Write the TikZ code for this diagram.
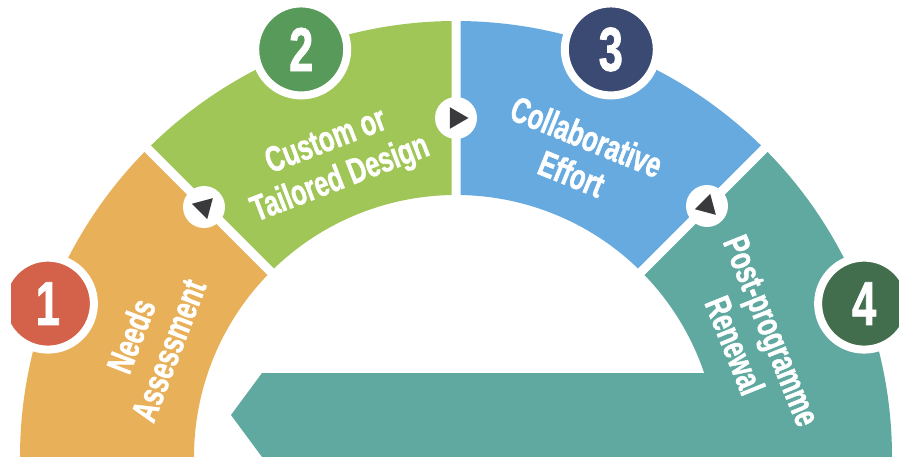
\documentclass[tikz,border=0pt]{standalone}
\usepackage{fontspec}
\usepackage{tikz}
\usetikzlibrary{shapes.geometric}
\newfontfamily\stepfont{Liberation Sans}[FakeStretch=0.7,FakeBold=1.2]
\definecolor{needs}{HTML}{E9B05A}
\definecolor{design}{HTML}{A0C657}
\definecolor{effort}{HTML}{67AADF}
\definecolor{renewal}{HTML}{5FA9A0}
\definecolor{numone}{HTML}{D4614A}
\definecolor{numtwo}{HTML}{589A5A}
\definecolor{numthree}{HTML}{3B4A73}
\definecolor{numfour}{HTML}{426E4E}
\definecolor{tipgray}{HTML}{3A3A3C}

\begin{document}
\begin{tikzpicture}[x=1pt,y=1pt,
  stepnum/.style={circle,draw=white,line width=8pt,minimum size=92pt,inner sep=0pt,
    text=white,font=\stepfont\bfseries\fontsize{62}{62}\selectfont},
  steptext/.style={align=center,text=white,inner sep=0pt,
    font=\stepfont\bfseries\fontsize{36}{40}\selectfont},
  stepmark/.style={circle,fill=white,minimum size=42pt,inner sep=0pt},
  tipmark/.style={regular polygon,regular polygon sides=3,fill=tipgray,minimum size=25pt,inner sep=0pt}]
  \useasboundingbox (0,0) rectangle (899,456);
  \clip (11,0) rectangle (899,456);

  \fill[renewal] (262,83) -- (231,41) -- (262,-1) -- (760,-1) -- (760,83) -- cycle;

  \begin{scope}[shift={(456,-1)}]
    \coordinate (c) at (0,0);
    \fill[needs] (135:262) -- (135:436) arc[start angle=135,end angle=180,radius=436]
      -- (180:262) arc[start angle=180,end angle=135,radius=262] -- cycle;
    \fill[design] (90:262) -- (90:436) arc[start angle=90,end angle=135,radius=436]
      -- (135:262) arc[start angle=135,end angle=90,radius=262] -- cycle;
    \fill[effort] (45:262) -- (45:436) arc[start angle=45,end angle=90,radius=436]
      -- (90:262) arc[start angle=90,end angle=45,radius=262] -- cycle;
    \fill[renewal] (0:262) -- (0:436) arc[start angle=0,end angle=45,radius=436]
      -- (45:262) arc[start angle=45,end angle=0,radius=262] -- cycle;
    \draw[white,line width=9pt] (45:255) -- (45:445) (90:255) -- (90:445) (135:255) -- (135:445);

    \node[stepnum,fill=numone]   (n1) at (159.4:436) {1};
    \node[stepnum,fill=numtwo]   (n2) at (110.8:436) {2};
    \node[stepnum,fill=numthree] (n3) at (69.2:436)  {3};
    \node[stepnum,fill=numfour]  (n4) at (20.6:436)  {4};

    \node[steptext,rotate=69]  (l1) at (159.6:327) {Needs\\Assessment};
    \node[steptext,rotate=21]  (l2) at (112.5:320) {Custom or\\Tailored Design};
    \node[steptext,rotate=-22] (l3) at (67.8:326)  {Collaborative\\Effort};
    \node[steptext,rotate=-68] (l4) at (21.8:320)  {Post-programme\\Renewal};
  \end{scope}

  \node[stepmark] (m1) at (204,249) {};
  \node[stepmark] (m2) at (456,338) {};
  \node[stepmark] (m3) at (707,250) {};
  \node[tipmark,rotate=-45]  at (m1) {};
  \node[tipmark,rotate=-90]  at (m2) {};
  \node[tipmark,rotate=-135] at (m3) {};
\end{tikzpicture}
\end{document}
